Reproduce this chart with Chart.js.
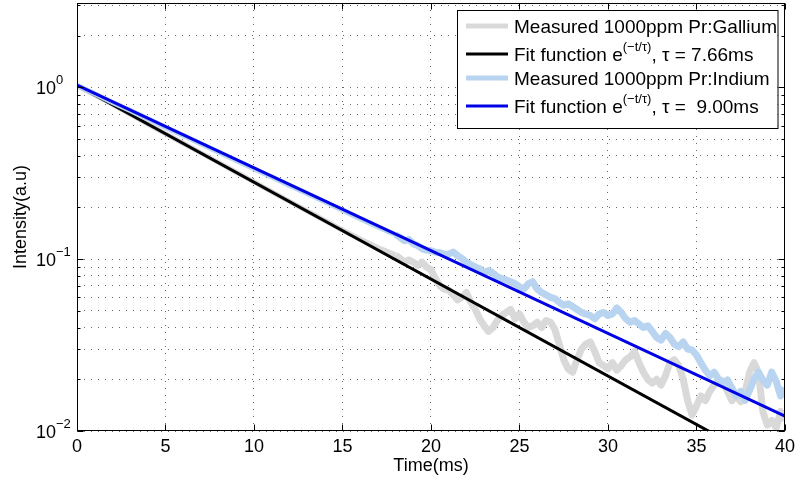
<!DOCTYPE html>
<html>
<head>
<meta charset="utf-8">
<script src="https://cdn.jsdelivr.net/npm/chart.js@4.4.1/dist/chart.umd.min.js"></script>
<style>
  html, body { margin: 0; padding: 0; background: #fff; }
  #wrap { width: 800px; height: 485px; }
</style>
</head>
<body>
<div id="wrap"><canvas id="decayChart"></canvas></div>
<script>
// time axis (ms)
const times = [0, 1, 2, 3, 4, 5, 6, 7, 8, 9, 10, 11, 12, 13, 14, 15, 16, 17,
  18, 18.25, 18.5, 18.75, 19, 19.25, 19.5, 19.75,
  20, 20.25, 20.5, 20.75, 21, 21.25, 21.5, 21.75,
  22, 22.25, 22.5, 22.75, 23, 23.25, 23.5, 23.75,
  24, 24.25, 24.5, 24.75, 25, 25.25, 25.5, 25.75,
  26, 26.25, 26.5, 26.75, 27, 27.25, 27.5, 27.75,
  28, 28.25, 28.5, 28.75, 29, 29.25, 29.5, 29.75,
  30, 30.25, 30.5, 30.75, 31, 31.25, 31.5, 31.75,
  32, 32.25, 32.5, 32.75, 33, 33.25, 33.5, 33.75,
  34, 34.25, 34.5, 34.75, 35, 35.25, 35.5, 35.75,
  36, 36.25, 36.5, 36.75, 37, 37.25, 37.5, 37.75,
  38, 38.25, 38.5, 38.75, 39, 39.25, 39.5, 39.75,
  40];

const gallium = [1.02, 0.905, 0.797, 0.70, 0.612, 0.539, 0.473, 0.416, 0.365, 0.321, 0.282, 0.247, 0.217, 0.191, 0.168, 0.148, 0.131, 0.117,
  0.106, 0.101, 0.096, 0.099, 0.096, 0.092, 0.096, 0.090,
  0.087, 0.077, 0.070, 0.067, 0.066, 0.062, 0.058, 0.060,
  0.064, 0.056, 0.051, 0.045, 0.041, 0.038, 0.040, 0.044,
  0.047, 0.049, 0.051, 0.045, 0.048, 0.043, 0.040, 0.041,
  0.043, 0.040, 0.044, 0.043, 0.039, 0.032, 0.026, 0.023,
  0.022, 0.026, 0.030, 0.032, 0.033, 0.029, 0.025, 0.024,
  0.023, 0.025, 0.0226, 0.024, 0.026, 0.027, 0.029, 0.025,
  0.022, 0.020, 0.019, 0.020, 0.0185, 0.021, 0.025, 0.026,
  0.024, 0.020, 0.015, 0.0124, 0.014, 0.016, 0.015, 0.017,
  0.0185, 0.020, 0.0195, 0.017, 0.015, 0.016, 0.0148, 0.017,
  0.022, 0.025, 0.022, 0.013, 0.0108, 0.0115, 0.0104, 0.013,
  0.0115];

const indium = [1.03, 0.918, 0.818, 0.733, 0.656, 0.586, 0.525, 0.470, 0.420, 0.375, 0.336, 0.301, 0.269, 0.241, 0.216, 0.193, 0.172, 0.154,
  0.139, 0.134, 0.128, 0.130, 0.123, 0.120, 0.115, 0.113,
  0.112, 0.110, 0.109, 0.107, 0.107, 0.110, 0.105, 0.101,
  0.096, 0.093, 0.090, 0.088, 0.083, 0.086, 0.083, 0.079,
  0.077, 0.0757, 0.074, 0.072, 0.069, 0.067, 0.072, 0.074,
  0.067, 0.064, 0.062, 0.060, 0.059, 0.056, 0.054, 0.055,
  0.053, 0.051, 0.049, 0.048, 0.047, 0.045, 0.048, 0.049,
  0.047, 0.048, 0.052, 0.049, 0.045, 0.043, 0.044, 0.042,
  0.040, 0.041, 0.038, 0.035, 0.0338, 0.037, 0.035, 0.032,
  0.031, 0.033, 0.030, 0.0296, 0.0277, 0.025, 0.0226, 0.021,
  0.022, 0.020, 0.019, 0.0198, 0.0178, 0.016, 0.017, 0.0151,
  0.0173, 0.020, 0.022, 0.0198, 0.0185, 0.022, 0.0195, 0.016,
  0.0178];

// fitted exponentials (straight on log axis): end points
const fitTimes = [0, 40];
const fitGallium = [1.03, 0.0057];
const fitIndium = [1.03, 0.0122];

const xTicks = [0, 5, 10, 15, 20, 25, 30, 35, 40];
const yGrid = [0.01, 0.02, 0.03, 0.04, 0.05, 0.06, 0.07, 0.08, 0.09,
  0.1, 0.2, 0.3, 0.4, 0.5, 0.6, 0.7, 0.8, 0.9, 1, 2, 3];
const yDecades = [0.01, 0.1, 1];
const yDecadeExp = ['\u22122', '\u22121', '0'];

const FONT = '"Liberation Sans", Arial, Helvetica, sans-serif';

function pairs(xs, ys) {
    return xs.map((t, i) => ({ x: t, y: ys[i] }));
}

// measured traces get noisier (thicker) after ~18 ms
const noisyWidth = c => (c.p0.parsed.x >= 18 ? 7 : 5);

// draws text with optional superscript pieces, returns end x
function drawRich(ctx, parts, x, y, size) {
    parts.forEach(p => {
        if (p.sup) {
            ctx.font = Math.round(size * 0.7) + 'px ' + FONT;
            ctx.fillText(p.t, x, y - size * 0.55);
        } else {
            ctx.font = size + 'px ' + FONT;
            ctx.fillText(p.t, x, y);
        }
        x += ctx.measureText(p.t).width;
    });
    return x;
}

const matlabLook = {
    id: 'matlabLook',
    afterDraw(chart) {
        const { ctx, chartArea: a, scales } = chart;
        const xs = scales.x, ys = scales.y;
        const L = Math.round(a.left) + 0.5, R = Math.round(a.right) - 0.5;
        const T = Math.round(a.top) + 0.5, B = Math.round(a.bottom) - 0.5;
        ctx.save();
        ctx.strokeStyle = '#000';
        ctx.lineWidth = 1;
        ctx.strokeRect(L, T, R - L, B - T);

        // inner tick marks
        ctx.beginPath();
        xTicks.forEach(v => {
            const px = Math.round(xs.getPixelForValue(v)) + 0.5;
            ctx.moveTo(px, B); ctx.lineTo(px, B - 6);
            ctx.moveTo(px, T); ctx.lineTo(px, T + 6);
        });
        yGrid.forEach(v => {
            const py = Math.round(ys.getPixelForValue(v)) + 0.5;
            const len = yDecades.includes(v) ? 6 : 3;
            ctx.moveTo(L, py); ctx.lineTo(L + len, py);
            ctx.moveTo(R, py); ctx.lineTo(R - len, py);
        });
        ctx.stroke();

        // y decade labels 10^n
        ctx.fillStyle = '#000';
        ctx.textAlign = 'left';
        ctx.textBaseline = 'alphabetic';
        yDecades.forEach((v, i) => {
            const py = ys.getPixelForValue(v);
            drawRich(ctx, [{ t: '10' }, { t: yDecadeExp[i], sup: true }], 36, py + 6.5, 18);
        });

        // legend
        const lx = 457, ly = a.top + 7, lw = R - 7 - lx, lh = 118;
        ctx.fillStyle = '#fff';
        ctx.fillRect(lx, ly, lw, lh);
        ctx.strokeStyle = '#000';
        ctx.strokeRect(lx + 0.5, ly + 0.5, lw, lh);
        const rowMid = [16, 44, 68, 96];
        chart.data.datasets.forEach((ds, i) => {
            const my = ly + rowMid[i];
            ctx.strokeStyle = ds.borderColor;
            ctx.lineWidth = ds.swatchWidth;
            ctx.beginPath();
            ctx.moveTo(lx + 9, my); ctx.lineTo(lx + 51, my);
            ctx.stroke();
            ctx.fillStyle = '#000';
            drawRich(ctx, ds.legendParts, lx + 57, my + 7, 19);
        });
        ctx.restore();
    }
};

const ctx = document.getElementById('decayChart').getContext('2d');
new Chart(ctx, {
    type: 'line',
    data: {
        datasets: [
            {
                label: 'Measured 1000ppm Pr:Gallium',
                legendParts: [{ t: 'Measured 1000ppm Pr:Gallium' }],
                data: pairs(times, gallium),
                borderColor: '#d9d9d9',
                borderWidth: 5,
                segment: { borderWidth: noisyWidth },
                swatchWidth: 5,
                pointRadius: 0,
                borderJoinStyle: 'round',
                order: 4,
                clip: 0
            },
            {
                label: 'Fit function e^(−t/τ), τ = 7.66ms',
                legendParts: [{ t: 'Fit function e' }, { t: '(\u2212t/\u03c4)', sup: true }, { t: ', \u03c4 = 7.66ms' }],
                data: pairs(fitTimes, fitGallium),
                borderColor: '#000000',
                borderWidth: 3,
                swatchWidth: 3,
                pointRadius: 0,
                order: 3,
                clip: 0
            },
            {
                label: 'Measured 1000ppm Pr:Indium',
                legendParts: [{ t: 'Measured 1000ppm Pr:Indium' }],
                data: pairs(times, indium),
                borderColor: '#b9d4f1',
                borderWidth: 5,
                segment: { borderWidth: noisyWidth },
                swatchWidth: 5,
                pointRadius: 0,
                borderJoinStyle: 'round',
                order: 2,
                clip: 0
            },
            {
                label: 'Fit function e^(−t/τ), τ = 9.00ms',
                legendParts: [{ t: 'Fit function e' }, { t: '(\u2212t/\u03c4)', sup: true }, { t: ', \u03c4 =  9.00ms' }],
                data: pairs(fitTimes, fitIndium),
                borderColor: '#0000e6',
                borderWidth: 3,
                swatchWidth: 3,
                pointRadius: 0,
                order: 1,
                clip: 0
            }
        ]
    },
    options: {
        responsive: true,
        maintainAspectRatio: false,
        animation: false,
        layout: { padding: { top: 3, right: 10, bottom: 0, left: 0 } },
        plugins: {
            legend: { display: false },
            tooltip: { enabled: false }
        },
        scales: {
            x: {
                type: 'linear',
                min: 0,
                max: 40,
                afterBuildTicks: s => { s.ticks = xTicks.map(v => ({ value: v })); },
                afterFit: s => { s.height = 54; },
                ticks: {
                    color: '#000',
                    padding: 5,
                    maxRotation: 0,
                    font: { family: FONT, size: 18 }
                },
                grid: { color: 'rgba(0,0,0,0.6)', lineWidth: 1, drawTicks: false },
                border: { display: false, dash: [1, 6] },
                title: {
                    display: true,
                    text: 'Time(ms)',
                    color: '#000',
                    font: { family: FONT, size: 18 },
                    padding: { top: 0, bottom: 8 }
                }
            },
            y: {
                type: 'logarithmic',
                min: 0.01,
                max: 3.1,
                afterBuildTicks: s => { s.ticks = yGrid.map(v => ({ value: v })); },
                afterFit: s => { s.width = 77; },
                ticks: { display: false },
                grid: { color: 'rgba(0,0,0,0.6)', lineWidth: 1, drawTicks: false },
                border: { display: false, dash: [1, 6] },
                title: {
                    display: true,
                    text: 'Intensity(a.u)',
                    color: '#000',
                    font: { family: FONT, size: 18 },
                    padding: { top: 10, bottom: 0 }
                }
            }
        }
    },
    plugins: [matlabLook]
});
</script>
</body>
</html>
